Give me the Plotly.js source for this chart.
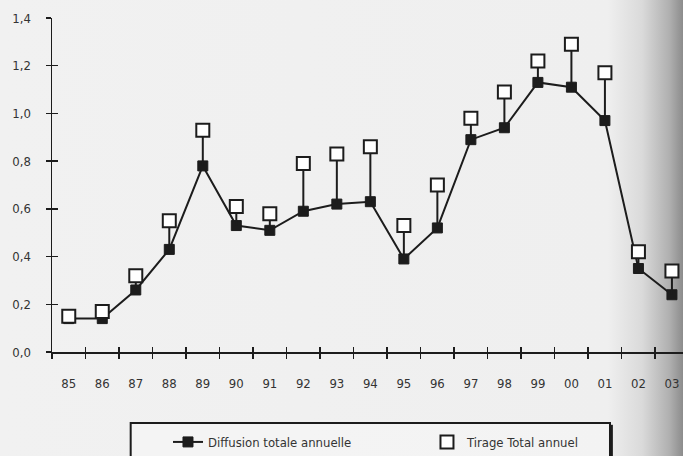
<!DOCTYPE html>
<html>
<head>
<meta charset="utf-8">
<script src="https://cdn.plot.ly/plotly-3.0.1.min.js"></script>
<style>
  html, body { margin: 0; padding: 0; }
  body {
    width: 683px; height: 456px; overflow: hidden;
    background: linear-gradient(to right, #f1f1f1 0%, #efefef 89%, #dadada 94%, #b0b0b0 98%, #8c8c8c 100%);
  }
  #chart { width: 683px; height: 456px; }
</style>
</head>
<body>
<div id="chart"></div>
<script>
// Years (category labels)
const years = ["85","86","87","88","89","90","91","92","93","94","95","96","97","98","99","00","01","02","03"];
// Diffusion totale annuelle (filled squares, connected)
const diffusion = [0.14,0.14,0.26,0.43,0.78,0.53,0.51,0.59,0.62,0.63,0.39,0.52,0.89,0.94,1.13,1.11,0.97,0.35,0.24];
// Tirage Total annuel (open squares)
const tirage = [0.15,0.17,0.32,0.55,0.93,0.61,0.58,0.79,0.83,0.86,0.53,0.70,0.98,1.09,1.22,1.29,1.17,0.42,0.34];
// Y tick values
const yTicks = [0,0.2,0.4,0.6,0.8,1.0,1.2,1.4];

const drop = tirage.map((t, i) => t - diffusion[i]);
const fontName = '"Liberation Sans Narrow", "DejaVu Sans Condensed", "Liberation Sans", sans-serif';
const ink = '#1c1c1c';

const traces = [
  {
    type: 'scatter', mode: 'lines+markers', name: 'Diffusion totale annuelle',
    x: years, y: diffusion,
    line: { color: ink, width: 2 },
    marker: { symbol: 'square', size: 10, color: ink, line: { color: ink, width: 1 } },
    hoverinfo: 'skip'
  },
  {
    type: 'scatter', mode: 'markers', name: 'Tirage Total annuel',
    x: years, y: tirage,
    marker: { symbol: 'square', size: 13, color: '#ffffff', line: { color: ink, width: 2 } },
    error_y: { type: 'data', symmetric: false, array: years.map(() => 0), arrayminus: drop,
               width: 0, thickness: 2, color: ink },
    hoverinfo: 'skip'
  }
];

const xr = [-0.5, 18.33];
const layout = {
  width: 683, height: 456,
  margin: { l: 52, r: 0, t: 18, b: 104, autoexpand: false },
  paper_bgcolor: 'rgba(0,0,0,0)', plot_bgcolor: 'rgba(0,0,0,0)',
  separators: ', ',
  showlegend: true,
  font: { family: fontName, color: '#333', size: 13 },
  xaxis: {
    type: 'category', range: xr, tickson: 'boundaries',
    ticks: 'outside', ticklen: 5, tickwidth: 1.5, tickcolor: ink,
    showline: true, linecolor: ink, linewidth: 1.5,
    showgrid: false, zeroline: false,
    tickfont: { family: fontName, size: 13, color: '#333' },
    ticklabelstandoff: 19
  },
  yaxis: {
    range: [0, 1.4], tickmode: 'array', tickvals: yTicks, tickformat: '.1f',
    ticks: 'outside', ticklen: 5, tickwidth: 1.5, tickcolor: ink,
    showline: true, linecolor: ink, linewidth: 1.5,
    showgrid: false, zeroline: false,
    tickfont: { family: fontName, size: 13, color: '#333' },
    ticklabelstandoff: 12
  },
  xaxis2: {
    overlaying: 'x', anchor: 'y', range: xr, tick0: -0.5, dtick: 1,
    ticks: 'inside', ticklen: 5, tickwidth: 1.5, tickcolor: ink,
    showticklabels: false, showline: false, showgrid: false, zeroline: false
  },
  yaxis2: {
    overlaying: 'y', anchor: 'x', range: [0, 1.4], tickmode: 'array', tickvals: yTicks,
    ticks: 'inside', ticklen: 6, tickwidth: 1.5, tickcolor: ink,
    showticklabels: false, showline: false, showgrid: false, zeroline: false
  },
  legend: {
    orientation: 'h', x: 0.1838, xanchor: 'left', y: -0.2245, yanchor: 'top',
    bgcolor: 'rgba(0,0,0,0)', borderwidth: 0,
    entrywidth: 214, entrywidthmode: 'pixels',
    font: { family: fontName, size: 13, color: '#333' }
  },
  shapes: [
    { type: 'rect', xref: 'paper', yref: 'paper', x0: 0.1247, x1: 0.8843, y0: -0.2126, y1: -0.34,
      line: { color: ink, width: 2 }, fillcolor: 'rgba(255,255,255,0.25)', layer: 'below' },
    { type: 'line', xref: 'paper', yref: 'paper', x0: 0.8865, x1: 0.8865, y0: -0.218, y1: -0.34,
      line: { color: ink, width: 3 } }
  ]
};

traces.push({ type: 'scatter', x: [0], y: [0], xaxis: 'x2', yaxis: 'y2', mode: 'markers',
  marker: { opacity: 0 }, showlegend: false, hoverinfo: 'skip' });

Plotly.newPlot('chart', traces, layout, { staticPlot: true });
</script>
</body>
</html>
